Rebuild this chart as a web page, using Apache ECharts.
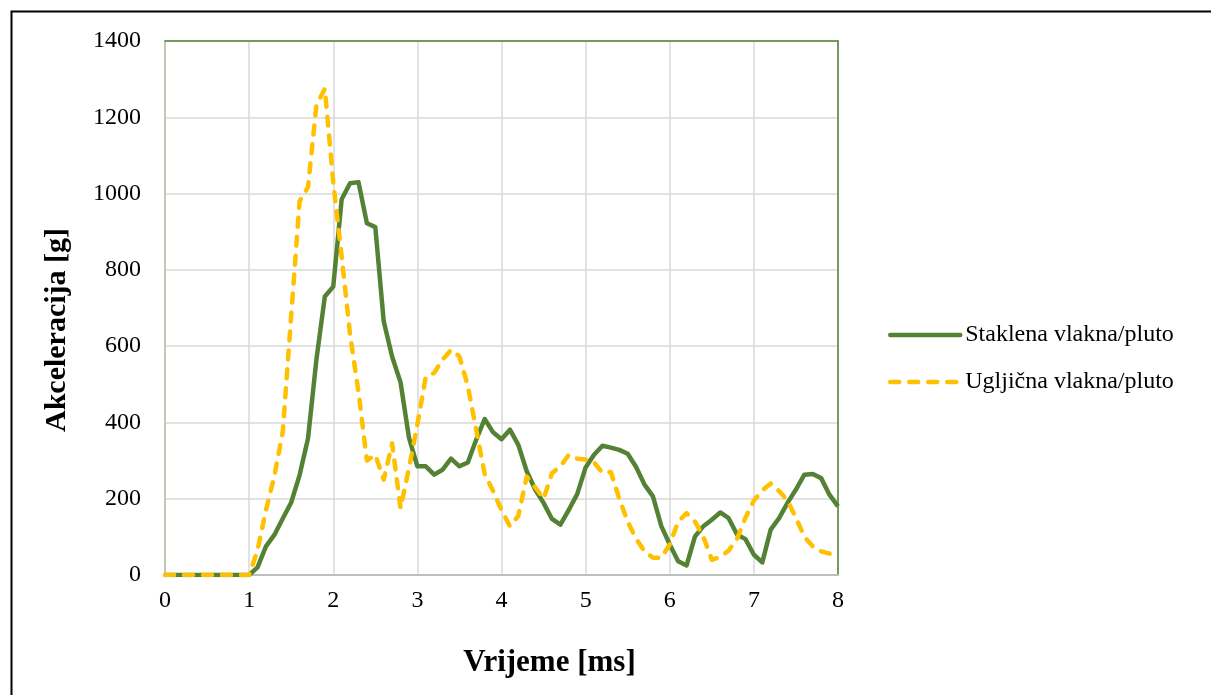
<!DOCTYPE html>
<html>
<head>
<meta charset="utf-8">
<script src="https://cdn.jsdelivr.net/npm/echarts@6/dist/echarts.min.js"></script>
<style>
  html, body { margin: 0; padding: 0; background: #fff; }
  #chart { width: 1211px; height: 695px; }
</style>
</head>
<body>
<div id="chart"></div>
<script>
// vrijeme [ms]
const times = [
  0.0, 0.1, 0.2, 0.3, 0.4, 0.5, 0.6, 0.7, 0.8, 0.9,
  1.0, 1.1, 1.2, 1.3, 1.4, 1.5, 1.6, 1.7, 1.8, 1.9,
  2.0, 2.1, 2.2, 2.3, 2.4, 2.5, 2.6, 2.7, 2.8, 2.9,
  3.0, 3.1, 3.2, 3.3, 3.4, 3.5, 3.6, 3.7, 3.8, 3.9,
  4.0, 4.1, 4.2, 4.3, 4.4, 4.5, 4.6, 4.7, 4.8, 4.9,
  5.0, 5.1, 5.2, 5.3, 5.4, 5.5, 5.6, 5.7, 5.8, 5.9,
  6.0, 6.1, 6.2, 6.3, 6.4, 6.5, 6.6, 6.7, 6.8, 6.9,
  7.0, 7.1, 7.2, 7.3, 7.4, 7.5, 7.6, 7.7, 7.8, 7.9,
  8.0
]

// Staklena vlakna/pluto
const staklena = [
  0, 0, 0, 0, 0, 0, 0, 0, 0, 0,
  0, 20, 75, 105, 148, 190, 262, 358, 565, 730,
  756, 985, 1027, 1030, 922, 912, 665, 572, 505, 360,
  285, 285, 263, 276, 305, 285, 295, 355, 409, 374,
  356, 381, 341, 272, 224, 189, 147, 132, 171, 212,
  282, 315, 339, 334, 328, 318, 283, 237, 206, 128,
  80, 36, 25, 101, 128, 145, 164, 149, 106, 94,
  53, 33, 119, 149, 189, 224, 263, 265, 254, 210,
  180
]

// Ugljična vlakna/pluto
const ugljicna = [
  0, 0, 0, 0, 0, 0, 0, 0, 0, 0,
  0, 65, 170, 260, 375, 680, 980, 1017, 1232, 1275,
  1030, 835, 630, 480, 300, 315, 250, 345, 175, 280,
  395, 520, 530, 565, 590, 573, 495, 380, 265, 220,
  170, 128, 155, 258, 230, 200, 267, 285, 315, 305,
  303, 295, 268, 270, 200, 140, 95, 62, 45, 45,
  80, 140, 162, 140, 100, 40, 47, 64, 95, 150,
  195, 222, 240, 220, 195, 150, 100, 75, 62, 56,
  62
]

const seriesNames = ['Staklena vlakna/pluto', 'Ugljična vlakna/pluto']

const toPairs = (ys) => times.map((t, i) => [t, ys[i]])

const chart = echarts.init(document.getElementById('chart'))

const serif = '"Liberation Serif", "Times New Roman", serif'

// okvir grafa (gornja i desna linija su zelene)
const frameAxis = {
  min: 0,
  axisTick: { show: false },
  axisLabel: { show: false },
  splitLine: { show: false },
  axisLine: { show: true, onZero: false, lineStyle: { color: '#548235', width: 1.5 } }
}

const option = {
  animation: false,
  backgroundColor: '#fff',
  textStyle: { fontFamily: serif },
  graphic: [
    {
      type: 'rect',
      left: 9,
      top: 9,
      shape: { width: 1210, height: 700 },
      style: { fill: 'none', stroke: '#000', lineWidth: 2 },
      silent: true
    }
  ],
  grid: {
    left: 165,
    top: 41,
    width: 673,
    height: 534
  },
  legend: {
    orient: 'vertical',
    left: 883,
    top: 318,
    itemWidth: 70,
    itemHeight: 14,
    itemGap: 23,
    itemStyle: { opacity: 0 },
    lineStyle: { width: 4.5, cap: 'round' },
    textStyle: { fontFamily: serif, fontSize: 24, color: '#000' },
    data: seriesNames
  },
  xAxis: [
    {
      type: 'value',
      min: 0,
      max: 8,
      interval: 1,
      name: 'Vrijeme [ms]',
      nameLocation: 'middle',
      nameGap: 72,
      nameTextStyle: {
        fontFamily: serif,
        fontSize: 31,
        fontWeight: 'bold',
        color: '#000',
        padding: [0, 0, 0, 96]
      },
      axisLine: { lineStyle: { color: '#bfbfbf', width: 2 } },
      axisTick: { show: false },
      axisLabel: { fontSize: 24, color: '#000', margin: 14, fontFamily: serif },
      splitLine: { lineStyle: { color: '#d9d9d9', width: 1.5 } }
    },
    Object.assign({ type: 'value', max: 8, position: 'top' }, frameAxis)
  ],
  yAxis: [
    {
      type: 'value',
      min: 0,
      max: 1400,
      interval: 200,
      name: 'Akceleracija [g]',
      nameLocation: 'middle',
      nameGap: 93,
      nameTextStyle: {
        fontFamily: serif,
        fontSize: 30,
        fontWeight: 'bold',
        color: '#000',
        padding: [0, 44, 0, 0]
      },
      axisLine: { show: true, lineStyle: { color: '#c0c8b8', width: 2 } },
      axisTick: { show: false },
      axisLabel: {
        fontSize: 24,
        color: '#000',
        margin: 24,
        fontFamily: serif,
        formatter: (v) => String(v)
      },
      splitLine: { lineStyle: { color: '#d9d9d9', width: 1.5 } }
    },
    Object.assign({ type: 'value', max: 1400, position: 'right' }, frameAxis)
  ],
  series: [
    {
      name: seriesNames[0],
      type: 'line',
      data: toPairs(staklena),
      showSymbol: false,
      symbol: 'none',
      lineStyle: { color: '#548235', width: 4.5, join: 'round' },
      itemStyle: { color: '#548235' },
      z: 3
    },
    {
      name: seriesNames[1],
      type: 'line',
      data: toPairs(ugljicna),
      showSymbol: false,
      symbol: 'none',
      lineStyle: { color: '#ffc000', width: 4.5, type: [9, 10], cap: 'round', join: 'round' },
      itemStyle: { color: '#ffc000' },
      z: 4
    }
  ]
}

chart.setOption(option)
</script>
</body>
</html>
